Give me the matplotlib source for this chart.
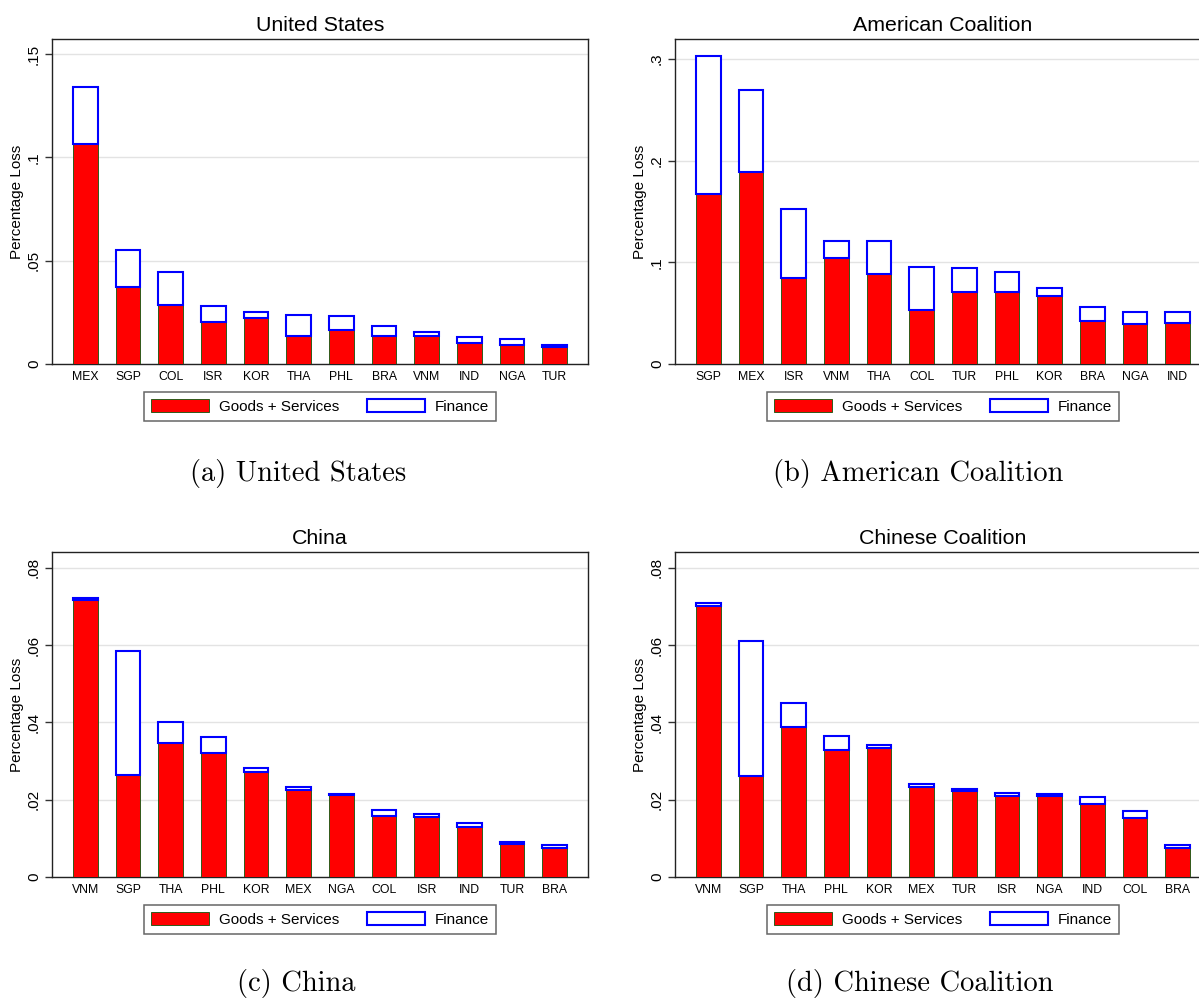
import matplotlib
matplotlib.use('Agg')
import matplotlib.pyplot as plt
from matplotlib.ticker import FuncFormatter, MultipleLocator
from matplotlib.patches import Patch
import numpy as np

plt.rcParams['font.family'] = ['Liberation Sans', 'DejaVu Sans']

# ---------------- data ----------------
us_countries = ['MEX', 'SGP', 'COL', 'ISR', 'KOR', 'THA', 'PHL', 'BRA', 'VNM', 'IND', 'NGA', 'TUR']
us_goods = [0.1065, 0.0373, 0.0284, 0.0202, 0.0221, 0.0134, 0.0163, 0.0137, 0.0134, 0.0102, 0.0092, 0.0081]
us_finance = [0.0274, 0.0177, 0.0161, 0.0080, 0.0032, 0.0105, 0.0069, 0.0047, 0.0021, 0.0030, 0.0027, 0.0013]

ac_countries = ['SGP', 'MEX', 'ISR', 'VNM', 'THA', 'COL', 'TUR', 'PHL', 'KOR', 'BRA', 'NGA', 'IND']
ac_goods = [0.1675, 0.1892, 0.0846, 0.1046, 0.0882, 0.0534, 0.0705, 0.0711, 0.0669, 0.0426, 0.0393, 0.0403]
ac_finance = [0.1358, 0.0806, 0.0679, 0.0161, 0.0325, 0.0423, 0.0236, 0.0197, 0.0075, 0.0138, 0.0122, 0.0108]

cn_countries = ['VNM', 'SGP', 'THA', 'PHL', 'KOR', 'MEX', 'NGA', 'COL', 'ISR', 'IND', 'TUR', 'BRA']
cn_goods = [0.0716, 0.0264, 0.0347, 0.0322, 0.0272, 0.0225, 0.0211, 0.0157, 0.0156, 0.0130, 0.0086, 0.0076]
cn_finance = [0.0005, 0.0320, 0.0054, 0.0040, 0.0010, 0.0008, 0.0005, 0.0016, 0.0007, 0.0010, 0.0005, 0.0006]

cc_countries = ['VNM', 'SGP', 'THA', 'PHL', 'KOR', 'MEX', 'TUR', 'ISR', 'NGA', 'IND', 'COL', 'BRA']
cc_goods = [0.0702, 0.0262, 0.0389, 0.0328, 0.0333, 0.0232, 0.0222, 0.0209, 0.0209, 0.0188, 0.0153, 0.0076]
cc_finance = [0.0008, 0.0349, 0.0060, 0.0037, 0.0008, 0.0009, 0.0006, 0.0009, 0.0005, 0.0018, 0.0017, 0.0007]

titles = ['United States', 'American Coalition', 'China', 'Chinese Coalition']
captions = ['(a) United States', '(b) American Coalition', '(c) China', '(d) Chinese Coalition']
legend_labels = ['Goods + Services', 'Finance']
ylabel = 'Percentage Loss'

# ---------------- style ----------------
RED = '#ff0000'
GREEN_EDGE = '#2f5a1a'
BLUE = '#0000ff'
GRID = '#e3e3e3'

W, H = 1199, 1000
fig = plt.figure(figsize=(W / 100, H / 100), dpi=100)

def fx(px):
    return px / W

def fy(py):
    return 1 - py / H

ax_w = 536 / W
ax_h = 325 / H
positions = [
    [fx(52), fy(364), ax_w, ax_h],
    [fx(675), fy(364), ax_w, ax_h],
    [fx(52), fy(877), ax_w, ax_h],
    [fx(675), fy(877), ax_w, ax_h],
]
ylims = [0.1573, 0.3197, 0.0841, 0.0841]
ysteps = [0.05, 0.1, 0.02, 0.02]

panels = [
    (us_countries, us_goods, us_finance),
    (ac_countries, ac_goods, ac_finance),
    (cn_countries, cn_goods, cn_finance),
    (cc_countries, cc_goods, cc_finance),
]

def fmt(v, pos):
    if abs(v) < 1e-12:
        return '0'
    s = ('%.3f' % v).rstrip('0').rstrip('.')
    if s.startswith('0.'):
        s = s[1:]
    return s

for i, (countries, goods, finance) in enumerate(panels):
    ax = fig.add_axes(positions[i])
    x = np.arange(len(countries))
    ax.bar(x, goods, width=0.575, color=RED, edgecolor=GREEN_EDGE, linewidth=0.7, zorder=3)
    ax.bar(x, finance, bottom=goods, width=0.575, color='white', edgecolor=BLUE,
           linewidth=1.5, zorder=4)
    ax.set_xlim(-0.78, len(countries) - 1 + 0.78)
    ax.set_ylim(0, ylims[i])
    ax.yaxis.set_major_locator(MultipleLocator(ysteps[i]))
    ax.yaxis.set_major_formatter(FuncFormatter(fmt))
    ax.set_xticks(x)
    ax.set_xticklabels(countries, fontsize=8.8)
    ax.tick_params(axis='x', length=0, pad=5)
    ax.tick_params(axis='y', length=5, width=1, pad=3, labelsize=11, labelrotation=90,
                   color='#333333')
    for lab in ax.get_yticklabels():
        lab.set_va('center')
    ax.yaxis.grid(True, color=GRID, linewidth=1, zorder=0)
    ax.set_axisbelow(True)
    for sp in ax.spines.values():
        sp.set_linewidth(1)
        sp.set_color('#222222')
    ax.set_ylabel(ylabel, fontsize=11, labelpad=2)
    ax.set_title(titles[i], fontsize=15.4, pad=6)
    handles = [Patch(facecolor=RED, edgecolor=GREEN_EDGE, linewidth=0.7),
               Patch(facecolor='white', edgecolor=BLUE, linewidth=1.5)]
    leg = ax.legend(handles, legend_labels, loc='upper center', bbox_to_anchor=(0.5, -0.086),
                    ncol=2, fontsize=11, frameon=True, fancybox=False, shadow=False,
                    handlelength=3.8, handleheight=1.0, handletextpad=0.65,
                    columnspacing=1.83, borderpad=0.45, borderaxespad=0)
    leg.get_frame().set_edgecolor('#404040')
    leg.get_frame().set_linewidth(1.1)

cap_x = [298, 918, 296, 920]
cap_y = [473, 473, 983, 983]
for c, cx, cy in zip(captions, cap_x, cap_y):
    fig.text(fx(cx), fy(cy), c, ha='center', va='center', fontsize=20.5, family='cmr10')

fig.savefig('out.png', dpi=100)
